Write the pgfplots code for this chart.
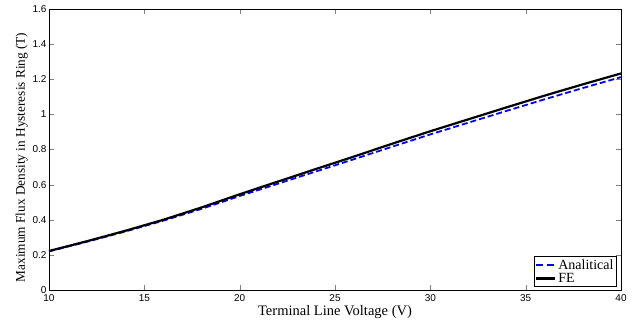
\documentclass[border=0pt]{standalone}
\usepackage{fontspec}
\setmainfont{Liberation Serif}
\newfontfamily\arialf{Liberation Sans}
\usepackage{pgfplots}
\pgfplotsset{compat=1.18}
\begin{document}
\begin{tikzpicture}
\begin{axis}[
  scale only axis,
  width=572pt, height=281pt,
  xmin=10, xmax=40, ymin=0, ymax=1.6,
  xtick={10,15,...,40},
  ytick={0,0.2,...,1.6},
  yticklabel style={/pgf/number format/fixed, xshift=1pt},
  /pgf/number format/assume math mode=true,
  tick label style={font=\arialf\fontsize{10}{11}\selectfont},
  xlabel={Terminal Line Voltage (V)},
  ylabel={Maximum Flux Density in Hysteresis Ring (T)},
  every axis x label/.style={at={(rel axis cs:0.5,0)}, anchor=base, yshift=-25pt,
    font=\fontsize{14.5}{16}\selectfont},
  every axis y label/.style={at={(rel axis cs:0,0.5)}, xshift=-24pt, yshift=-8pt,
    rotate=90, anchor=base, font=\fontsize{13.3}{15}\selectfont},
  tick align=inside,
  major tick length=5pt,
  axis line style={line width=0.9pt},
  xticklabel style={yshift=-1pt},
  legend style={at={(rel axis cs:0.993,0.01)}, anchor=south east,
    font=\fontsize{14}{15}\selectfont, draw=black, line width=0.9pt,
    inner sep=1pt, row sep=-2pt},
  legend image code/.code={\draw[#1] (0pt,0pt) -- (19pt,0pt);},
  legend cell align=left,
]
\addplot[blue, line width=1.8pt, dash pattern=on 6pt off 3pt,
  legend image post style={draw=blue, line width=2pt, dash pattern=on 7pt off 4pt}] coordinates {
(10,0.220) (12,0.275) (14,0.333) (16,0.395) (18,0.462) (20,0.535) (22,0.605)
(24,0.675) (26,0.745) (28,0.816) (30,0.886) (32,0.953) (34,1.020) (36,1.086)
(38,1.150) (40,1.212)};
\addlegendentry{Analitical}
\addplot[black, line width=2.2pt] coordinates {
(10,0.222) (12,0.278) (14,0.337) (16,0.400) (18,0.470) (20,0.545) (22,0.617)
(24,0.689) (26,0.760) (28,0.833) (30,0.904) (32,0.972) (34,1.040) (36,1.107)
(38,1.171) (40,1.233)};
\addlegendentry{FE}
\end{axis}
\pgfresetboundingbox
\path ([shift={(-49pt,-34pt)}]current axis.south west) rectangle ([shift={(12pt,9pt)}]current axis.north east);
\end{tikzpicture}
\end{document}
